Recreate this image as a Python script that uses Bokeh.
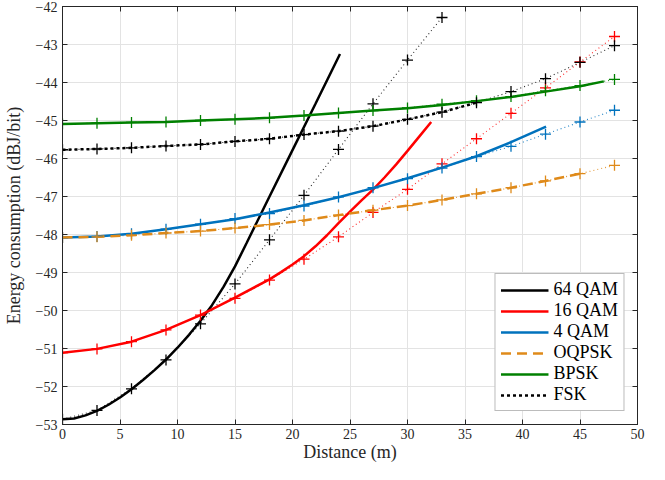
from bokeh.plotting import figure
from bokeh.models import Range1d, FixedTicker, LinearAxis, CustomJSTickFormatter
from bokeh.embed import file_html
from bokeh.resources import INLINE

# ---- data ----
x_sim = [0, 3, 6, 9, 12, 15, 18, 21, 24, 27, 30, 33, 36, 39, 42, 45, 48]

qam64_sim_x = [0, 3, 6, 9, 12, 15, 18, 21, 24, 27, 30, 33]
qam64_sim = [-52.86, -52.63, -52.06, -51.30, -50.35, -49.30, -48.14, -46.97, -45.76, -44.56, -43.41, -42.29]
qam64_th_x = [0, 1, 2, 3, 4, 5, 6, 7, 8, 9, 10, 11, 12, 13, 14, 15, 16, 18, 20, 22, 24.13]
qam64_th = [-52.86, -52.84, -52.76, -52.64, -52.48, -52.29, -52.07, -51.83, -51.57, -51.29, -50.98,
            -50.64, -50.27, -49.86, -49.38, -48.84, -48.23, -47.00, -45.78, -44.56, -43.25]

qam16_sim = [-51.11, -51.01, -50.82, -50.51, -50.12, -49.68, -49.20, -48.65, -48.06, -47.42, -46.81, -46.14, -45.48, -44.81, -44.14, -43.46, -42.79]
qam16_th_x = [0, 3, 6, 9, 12, 15, 18, 19, 20, 21, 22, 23, 24, 25, 26, 27, 28, 29, 30, 31, 32.06]
qam16_th = [-51.11, -51.01, -50.82, -50.51, -50.12, -49.66, -49.18, -48.99, -48.79, -48.57, -48.31, -48.02,
            -47.70, -47.40, -47.10, -46.82, -46.50, -46.16, -45.80, -45.43, -45.04]

qam4_sim = [-48.08, -48.05, -47.98, -47.86, -47.73, -47.58, -47.45, -47.25, -47.01, -46.77, -46.53, -46.25, -45.95, -45.68, -45.36, -45.04, -44.73]
qam4_th_x = [0, 3, 6, 9, 12, 15, 18, 21, 24, 27, 30, 33, 36, 39, 42.05]
qam4_th = [-48.08, -48.05, -47.98, -47.86, -47.73, -47.60, -47.42, -47.23, -47.02, -46.78, -46.52, -46.24, -45.94, -45.57, -45.16]

oqpsk_sim = [-48.08, -48.06, -48.02, -47.96, -47.91, -47.83, -47.74, -47.63, -47.49, -47.36, -47.24, -47.09, -46.93, -46.77, -46.59, -46.40, -46.18]
oqpsk_th_x = [0, 3, 6, 9, 12, 15, 18, 21, 24, 27, 30, 33, 36, 39, 42, 45]
oqpsk_th = [-48.08, -48.06, -48.02, -47.96, -47.91, -47.83, -47.74, -47.63, -47.49, -47.36, -47.24, -47.09, -46.93, -46.77, -46.59, -46.40]

bpsk_sim = [-45.09, -45.07, -45.05, -45.04, -45.00, -44.97, -44.93, -44.87, -44.80, -44.74, -44.67, -44.57, -44.48, -44.37, -44.22, -44.08, -43.92]
bpsk_th_x = [0, 3, 6, 9, 12, 15, 18, 21, 24, 27, 30, 33, 36, 39, 42, 45, 47.07]
bpsk_th = [-45.09, -45.07, -45.05, -45.04, -45.00, -44.97, -44.93, -44.87, -44.80, -44.74, -44.68, -44.59, -44.49, -44.38, -44.24, -44.10, -43.97]

fsk_sim = [-45.77, -45.75, -45.72, -45.67, -45.63, -45.55, -45.48, -45.37, -45.28, -45.15, -44.97, -44.78, -44.53, -44.24, -43.90, -43.47, -43.03]
fsk_th_x = [0, 3, 6, 9, 12, 15, 18, 21, 24, 27, 30, 33, 36]
fsk_th = [-45.77, -45.75, -45.72, -45.67, -45.63, -45.55, -45.48, -45.37, -45.28, -45.15, -44.97, -44.78, -44.53]

x_ticks = [0, 5, 10, 15, 20, 25, 30, 35, 40, 45, 50]
y_ticks = [-53, -52, -51, -50, -49, -48, -47, -46, -45, -44, -43, -42]

# ---- styles ----
BLACK = "#000000"
RED = "#FF0000"
BLUE = "#0072BD"
ORANGE = "#DF8A1A"
GREEN = "#008000"
FONT = "'Liberation Serif', serif"
AX = "#262626"

p = figure(width=649, height=464, x_range=Range1d(0, 50), y_range=Range1d(-53, -42),
           output_backend="svg", toolbar_location=None,
           min_border_left=0, min_border_right=12, min_border_top=6, min_border_bottom=0)
p.background_fill_color = "white"
p.border_fill_color = "white"
p.outline_line_color = AX
p.outline_line_width = 1

for ax in (p.xaxis[0], p.yaxis[0]):
    ax.major_label_text_font = FONT
    ax.major_label_text_font_size = "14px"
    ax.major_label_text_color = AX
    ax.axis_label_text_font = FONT
    ax.axis_label_text_font_size = "18px"
    ax.axis_label_text_font_style = "normal"
    ax.axis_label_text_color = AX
    ax.axis_line_color = AX
    ax.major_tick_line_color = AX
    ax.major_tick_in = 5
    ax.major_tick_out = 0
    ax.minor_tick_line_color = None
p.xaxis.ticker = FixedTicker(ticks=x_ticks)
p.yaxis.ticker = FixedTicker(ticks=y_ticks)
p.xaxis.axis_label = "Distance (m)"
p.yaxis.axis_label = "Energy consumption (dBJ/bit)"
p.xaxis.major_label_standoff = 4
p.xaxis.axis_label_standoff = 0
p.yaxis.major_label_standoff = 5
p.yaxis.axis_label_standoff = 9

blank = CustomJSTickFormatter(code="return ''")
for side, tk in (("right", y_ticks), ("above", x_ticks)):
    a = LinearAxis(ticker=FixedTicker(ticks=tk), formatter=blank)
    a.major_tick_in = 5
    a.major_tick_out = 0
    a.minor_tick_line_color = None
    a.axis_line_color = AX
    a.major_tick_line_color = AX
    a.major_label_text_font_size = "1px"
    a.major_label_standoff = 0
    p.add_layout(a, side)

p.grid.grid_line_color = "#E3E3E3"
p.grid.grid_line_width = 1
p.xgrid.ticker = FixedTicker(ticks=x_ticks)
p.ygrid.ticker = FixedTicker(ticks=y_ticks)

# thin dotted simulated lines with + markers
sims = [
    (qam64_sim_x, qam64_sim, BLACK),
    (x_sim, qam16_sim, RED),
    (x_sim, qam4_sim, BLUE),
    (x_sim, oqpsk_sim, ORANGE),
    (x_sim, bpsk_sim, GREEN),
    (x_sim, fsk_sim, BLACK),
]
for xs, ys, c in sims:
    p.line(xs, ys, line_color=c, line_width=1.1, line_dash="1 3", line_alpha=0.85)

# thick theoretical lines
p.line(qam64_th_x, qam64_th, line_color=BLACK, line_width=2.5, legend_label="64 QAM")
p.line(qam16_th_x, qam16_th, line_color=RED, line_width=2.5, legend_label="16 QAM")
p.line(qam4_th_x, qam4_th, line_color=BLUE, line_width=2.5, legend_label="4 QAM")
p.line(oqpsk_th_x, oqpsk_th, line_color=ORANGE, line_width=2.5, line_dash="10 6", legend_label="OQPSK")
p.line(bpsk_th_x, bpsk_th, line_color=GREEN, line_width=2.5, legend_label="BPSK")
p.line(fsk_th_x, fsk_th, line_color=BLACK, line_width=2.5, line_dash="3 3", legend_label="FSK")

for xs, ys, c in sims:
    p.scatter(xs, ys, marker="cross", size=11, line_color=c, line_width=1.3)

lg = p.legend[0]
lg.location = "bottom_right"
lg.margin = 13
lg.padding = 5
lg.spacing = 0
lg.glyph_width = 48
lg.glyph_height = 20
lg.label_standoff = 5
lg.label_text_font = FONT
lg.label_text_font_size = "18px"
lg.label_text_color = BLACK
lg.border_line_color = "#7A7A7A"
lg.border_line_width = 1
lg.background_fill_color = "white"
lg.background_fill_alpha = 1

open("out.html", "w").write(file_html(p, INLINE))
